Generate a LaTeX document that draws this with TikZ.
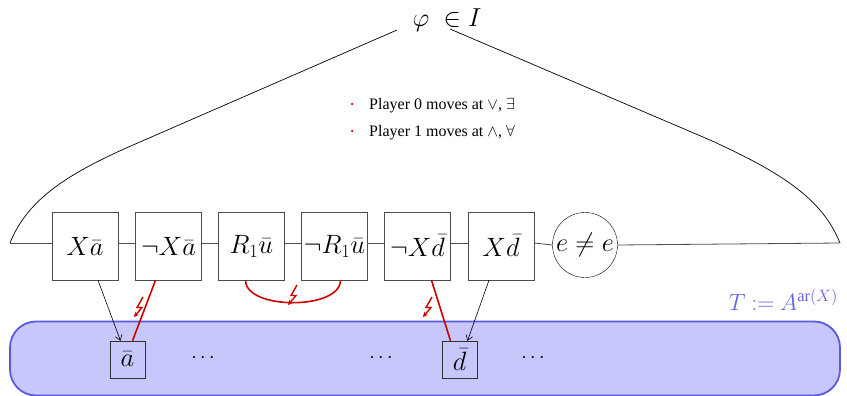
\documentclass[tikz,border=0pt]{standalone}
\usepackage{fix-cm}
\usepackage{fontspec}
\setmainfont{Liberation Serif}
\usetikzlibrary{arrows.meta,calc}
\definecolor{myred}{RGB}{204,0,0}
\definecolor{blfill}{RGB}{199,199,252}
\definecolor{bldraw}{RGB}{90,90,224}
\definecolor{bltext}{RGB}{100,100,232}
\newcommand{\mybigsize}{\fontsize{26.5}{30}\selectfont}
\newcommand{\mybulsize}{\fontsize{16}{18}\selectfont}
\tikzset{
  lit/.style={draw=black!70, fill=white, minimum width=66pt, minimum height=68pt, inner sep=0pt, font=\mybigsize},
  elem/.style={draw=black!80, minimum width=35pt, minimum height=37pt, inner sep=0pt, font=\mybigsize},
  chain/.style={draw=black!70, line width=0.8pt},
  hull/.style={draw=black, line width=0.7pt},
  conflict/.style={draw=myred, line width=1.6pt},
  mapto/.style={draw=black, line width=0.6pt, -{Straight Barb[length=5pt,width=7pt]}},
  boltstyle/.style={draw=myred, line width=1.4pt, -{Stealth[length=5pt,width=5pt]}},
  bul/.style={circle, fill=myred, inner sep=0pt, minimum size=2.5pt},
  dotsnode/.style={font=\fontsize{20}{22}\selectfont},
  bultext/.style={anchor=west, font=\mybulsize, inner sep=0pt}
}
\newcommand{\mybolt}[1]{\draw[boltstyle] ($(#1)+(5,-10)$) -- ($(#1)+(-1,0.5)$) -- ($(#1)+(4,0.5)$) -- ($(#1)+(-4,10)$);}
\begin{document}
\begin{tikzpicture}[x=1pt,y=-1pt]
\useasboundingbox (0,0) rectangle (847,396);
% blue structure
\node[draw=bldraw, fill=blfill, line width=1.8pt, rounded corners=26pt, minimum width=830pt, minimum height=74pt, inner sep=0pt] (T) at (425,358.5) {};
\node[text=bltext, font=\fontsize{23.5}{28}\selectfont, anchor=base east, inner sep=0pt] (Tlab) at (838,310) {$T\ {:=}\ A^{\mathrm{ar}(X)}$};
% formula
\node[font=\fontsize{26}{30}\selectfont, anchor=base, inner sep=0pt] (phi) at (447,27) {$\varphi\;\in I$};
\coordinate (L) at (10,243);
\coordinate (R) at (840,243);
\coordinate (phiL) at (397,30);
\coordinate (phiR) at (450,29);
\draw[hull] (L) .. controls (28,198) and (70,172) .. (140,142) -- (phiL);
\draw[hull] (R) .. controls (822,198) and (780,172) .. (710,140) -- (phiR);
% bullets
\node[bul] (b1) at (352,104) {};
\node[bul] (b2) at (352,131) {};
\node[bultext] (t1) at (369,106) {Player 0 moves at $\vee$, $\exists$};
\node[bultext] (t2) at (369,133) {Player 1 moves at $\wedge$, $\forall$};
% literals
\node[lit] (Xa) at (85,246) {$X\bar a$};
\node[lit] (nXa) at (168.5,246) {$\neg X\bar a$};
\node[lit] (Ru) at (251.5,246) {$R_1\bar u$};
\node[lit] (nRu) at (334.5,246) {$\neg R_1\bar u$};
\node[lit] (nXd) at (417.5,246) {$\neg X\bar d$};
\node[lit] (Xd) at (501,246) {$X\bar d$};
\node[circle, draw=black, fill=white, minimum size=65pt, inner sep=0pt, font=\mybigsize] (ee) at (585,245) {$e\neq e$};
\draw[chain] (L) -- (Xa.west |- L);
\draw[chain] (Xa.east |- L) -- (nXa.west |- L);
\draw[chain] (nXa.east |- L) -- (Ru.west |- L);
\draw[chain] (Ru.east |- L) -- (nRu.west |- L);
\draw[chain] (nRu.east |- L) -- (nXd.west |- L);
\draw[chain] (nXd.east |- L) -- (Xd.west |- L);
\draw[chain] (Xd.east |- L) -- (ee.west);
\draw[chain] (ee.east) -- (R);
% elements
\node[elem] (a) at (127.5,359.5) {$\bar a$};
\node[elem] (d) at (459.5,359.5) {$\bar d$};
\node[dotsnode] (dots1) at (203,358) {$\cdots$};
\node[dotsnode] (dots2) at (381,358) {$\cdots$};
\node[dotsnode] (dots3) at (533,358) {$\cdots$};
% mappings
\draw[mapto] ($(Xa.south)+(13,0)$) -- ($(a.north)+(-7,0)$);
\draw[mapto] ($(Xd.south)+(-12,0)$) -- ($(d.north)+(8,0)$);
% conflicts
\draw[conflict] ($(nXa.south)+(-13,0)$) -- ($(a.north)+(5,0)$);
\draw[conflict] ($(nXd.south)+(14,0)$) -- ($(d.north)+(-9,0)$);
\draw[conflict] ($(Ru.south)+(-6,0)$) .. controls ($(Ru.south)+(-6,30)$) and ($(nRu.south)+(6,30)$) .. ($(nRu.south)+(6,0)$);
\coordinate (z1) at (138,307);
\coordinate (z2) at (292,295);
\coordinate (z3) at (427,307);
\mybolt{z1}
\mybolt{z2}
\mybolt{z3}
\end{tikzpicture}
\end{document}
